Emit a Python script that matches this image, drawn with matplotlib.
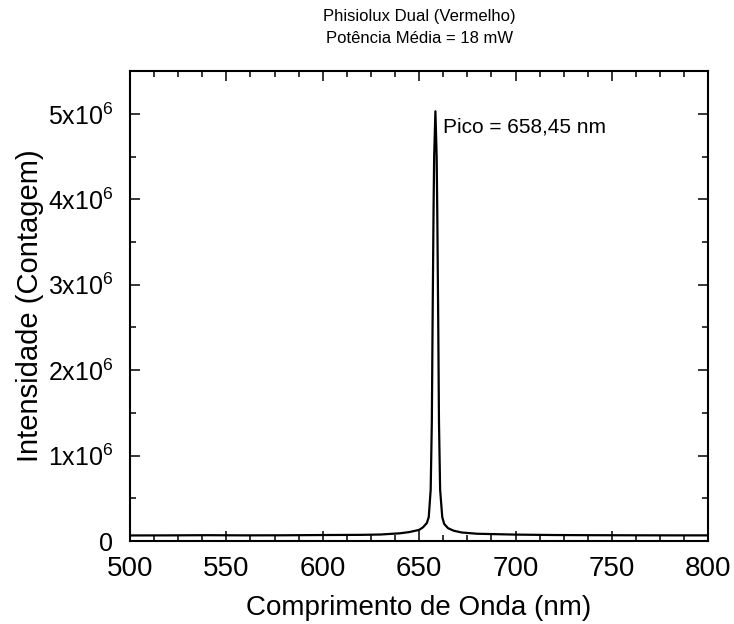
import numpy as np
import matplotlib
matplotlib.use("Agg")
import matplotlib.pyplot as plt
from matplotlib.ticker import MultipleLocator, FuncFormatter

plt.rcParams["font.family"] = ["Liberation Sans", "DejaVu Sans"]
plt.rcParams["mathtext.fontset"] = "custom"
plt.rcParams["mathtext.rm"] = "Liberation Sans"
plt.rcParams["mathtext.it"] = "Liberation Sans"

# ── spectrum (wavelength in nm, counts) ──
wavelength = [500, 520, 540, 560, 580, 600, 620, 630, 640, 645, 650, 652,
              654, 655, 656, 656.6, 657, 657.5, 657.8, 658.45, 659.1, 659.4,
              659.9, 660.3, 660.9, 662, 663, 665, 668, 672, 680, 700, 720,
              740, 760, 780, 800]
intensity = [0.065e6, 0.066e6, 0.068e6, 0.066e6, 0.067e6, 0.07e6, 0.072e6,
             0.076e6, 0.09e6, 0.105e6, 0.13e6, 0.16e6,
             0.21e6, 0.28e6, 0.6e6, 1.4e6, 2.6e6, 3.9e6, 4.5e6, 5.03e6, 4.5e6, 3.9e6,
             2.6e6, 1.4e6, 0.6e6, 0.28e6, 0.2e6, 0.15e6, 0.12e6, 0.1e6, 0.085e6, 0.075e6, 0.07e6,
             0.068e6, 0.067e6, 0.066e6, 0.066e6]

title_lines = ["Phisiolux Dual (Vermelho)", "Potência Média = 18 mW"]
peak_label = "Pico = 658,45 nm"
peak_pos = (662.3, 4.85e6)


def sci_label(v, _pos):
    if v == 0:
        return "0"
    return r"%dx10$^{6}$" % round(v / 1e6)


fig = plt.figure(figsize=(7.34, 6.24), dpi=100)
ax = fig.add_axes([0.177, 0.133, 0.788, 0.753])

ax.plot(wavelength, intensity, color="black", linewidth=1.6)
ax.text(*peak_pos, peak_label, fontsize=15, va="center", ha="left")

ax.set_xlim(500, 800)
ax.set_ylim(0, 5.5e6)
ax.xaxis.set_major_locator(MultipleLocator(50))
ax.xaxis.set_minor_locator(MultipleLocator(12.5))
ax.yaxis.set_major_locator(MultipleLocator(1e6))
ax.yaxis.set_minor_locator(MultipleLocator(0.5e6))
ax.yaxis.set_major_formatter(FuncFormatter(sci_label))

ax.tick_params(which="both", direction="in", top=True, right=True, width=1.1)
ax.tick_params(which="major", length=7.5)
ax.tick_params(which="minor", length=4)
ax.tick_params(axis="x", which="major", labelsize=20, pad=11)
ax.tick_params(axis="y", which="major", labelsize=18, pad=12)
for side in ax.spines.values():
    side.set_linewidth(1.5)

ax.set_xlabel("Comprimento de Onda (nm)", fontsize=20, labelpad=9)
ax.set_ylabel("Intensidade (Contagem)", fontsize=21, labelpad=3)
ax.set_title("\n".join(title_lines), fontsize=12, pad=20, linespacing=1.65)

fig.savefig("out.png", dpi=100)
